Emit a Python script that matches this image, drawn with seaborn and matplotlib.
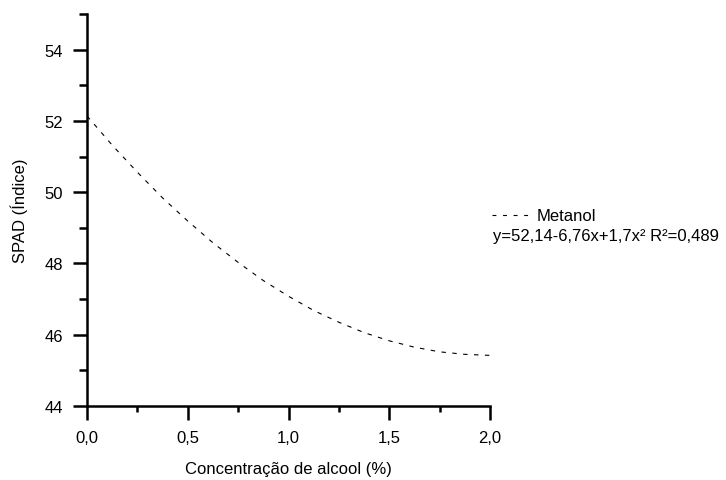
import matplotlib
matplotlib.use("Agg")
import matplotlib.pyplot as plt
import seaborn as sns
import pandas as pd
from matplotlib.ticker import MultipleLocator, FixedLocator

sns.set_theme(style="ticks", rc={"text.color": "black", "axes.labelcolor": "black",
                                 "xtick.color": "black", "ytick.color": "black"})
plt.rcParams['font.family'] = ['Liberation Sans', 'DejaVu Sans']

concentracao = [0.0, 0.125, 0.25, 0.375, 0.5, 0.625, 0.75, 0.875, 1.0,
                1.125, 1.25, 1.375, 1.5, 1.625, 1.75, 1.875, 2.0]
spad = [52.14, 51.32, 50.56, 49.84, 49.19, 48.58, 48.03, 47.52, 47.08,
        46.68, 46.35, 46.06, 45.83, 45.65, 45.52, 45.45, 45.42]
serie = "Metanol"
equacao = "y=52,14-6,76x+1,7x² R²=0,489"
xticks = [0.0, 0.5, 1.0, 1.5, 2.0]
xticklabels = ["0,0", "0,5", "1,0", "1,5", "2,0"]
yticks = [44, 46, 48, 50, 52, 54]

df = pd.DataFrame({"x": concentracao, "y": spad})

fig = plt.figure(figsize=(7.26, 4.81), dpi=100)
ax = fig.add_axes([87/726, 1-407/481, (490-87)/726, (407-15)/481])

sns.lineplot(data=df, x="x", y="y", ax=ax, color="black", linewidth=0.8,
             linestyle=(0, (4, 5.8)), label=serie)

ax.set_xlim(0, 2.0)
ax.set_ylim(44, 55)
ax.xaxis.set_major_locator(FixedLocator(xticks))
ax.set_xticklabels(xticklabels)
ax.xaxis.set_minor_locator(MultipleLocator(0.25))
ax.yaxis.set_major_locator(FixedLocator(yticks))
ax.set_yticklabels([str(v) for v in yticks])
ax.yaxis.set_minor_locator(MultipleLocator(1))

for s in ["top", "right"]:
    ax.spines[s].set_visible(False)
for s in ["left", "bottom"]:
    ax.spines[s].set_linewidth(1.8)
    ax.spines[s].set_color("black")
    ax.spines[s].set_capstyle("projecting")

ax.tick_params(axis="both", which="major", length=10, width=1.8, colors="black",
               labelsize=12, direction="out")
ax.tick_params(axis="x", which="minor", length=4.5, width=1.8, colors="black",
               direction="out")
ax.tick_params(axis="y", which="minor", length=5.5, width=1.8, colors="black",
               direction="out")
ax.tick_params(axis="x", which="major", pad=7)
ax.tick_params(axis="y", which="major", pad=7)

ax.set_xlabel("Concentração de alcool (%)", fontsize=12, labelpad=12, color="black")
ax.set_ylabel("SPAD (Índice)", fontsize=12, labelpad=12, color="black")

leg = ax.legend(loc="center left", bbox_to_anchor=(492/726, 1-217/481),
                bbox_transform=fig.transFigure, frameon=False, fontsize=12,
                handlelength=2.2, handletextpad=0.5, borderpad=0, borderaxespad=0,
                labelcolor="black")
for h in leg.get_lines():
    h.set_linestyle((0, (3.5, 6)))
fig.text(493/726, 1-237/481, equacao, fontsize=12, va="center", ha="left", color="black")

fig.savefig("out.png", dpi=100, facecolor="white")
